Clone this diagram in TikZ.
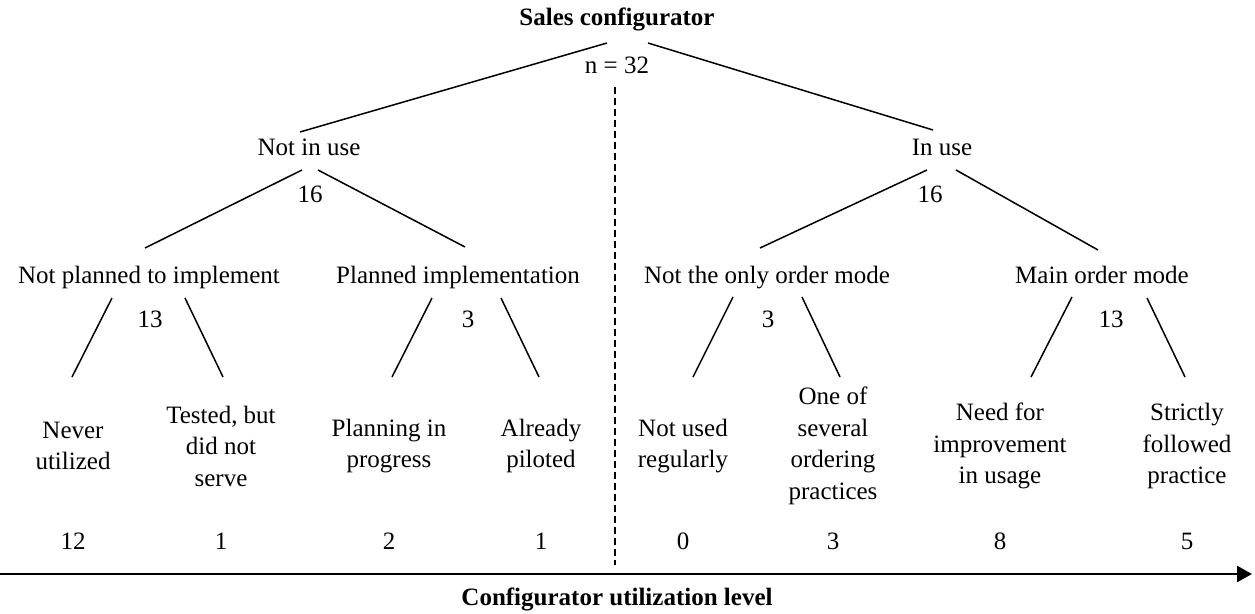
\documentclass[tikz,border=0pt]{standalone}
\usepackage{fontspec}
\setmainfont{Liberation Serif}
\usepackage{tikz}
\usetikzlibrary{arrows.meta,calc}

\begin{document}
\begin{tikzpicture}[
    x=1pt, y=-1pt,
    lbl/.style={inner sep=0pt, font=\fontsize{25}{31.5}\selectfont, text height=17pt, text depth=6pt},
    title/.style={lbl, font=\fontsize{25}{31.5}\selectfont\bfseries},
    leaf/.style={inner sep=0pt, align=center, font=\fontsize{25}{31.5}\selectfont},
    branch/.style={line width=1.5pt},
    divider/.style={line width=1.3pt, dash pattern=on 7pt off 4pt},
    axis/.style={line width=2.6pt, -{Triangle[length=15pt,width=16pt]}}
]
\useasboundingbox (0,0) rectangle (1255,613);

% Root
\node[title] (top) at (617,20) {Sales configurator};
\node[lbl] (n32) at (617,68) {n = 32};

% First split
\node[lbl] (notuse) at (309,150) {Not in use};
\node[lbl] (n16a) at (310,197) {16};
\node[lbl] (inuse) at (942,150) {In use};
\node[lbl] (n16b) at (930,197) {16};

% Second split
\node[lbl] (npi) at (149,278) {Not planned to implement};
\node[lbl] (n13a) at (150,322) {13};
\node[lbl] (pim) at (458,278) {Planned implementation};
\node[lbl] (n3a) at (468,322) {3};
\node[lbl] (notonly) at (767,278) {Not the only order mode};
\node[lbl] (n3b) at (768,322) {3};
\node[lbl] (mainm) at (1102,278) {Main order mode};
\node[lbl] (n13b) at (1111,322) {13};

% Leaves
\node[leaf] (never) at (73,446) {Never\\utilized};
\node[leaf] (tested) at (221,446) {Tested, but\\did not\\serve};
\node[leaf] (planning) at (389,446) {Planning in\\progress};
\node[leaf] (already) at (541,446) {Already\\piloted};
\node[leaf] (notused) at (683,446) {Not used\\regularly};
\node[leaf] (oneof) at (833,446) {One of\\several\\ordering\\practices};
\node[leaf] (need) at (1000,446) {Need for\\improvement\\in usage};
\node[leaf] (strictly) at (1187,446) {Strictly\\followed\\practice};

% Counts
\node[lbl] (c1) at (73,544) {12};
\node[lbl] (c2) at (221,544) {1};
\node[lbl] (c3) at (389,544) {2};
\node[lbl] (c4) at (541,544) {1};
\node[lbl] (c5) at (683,544) {0};
\node[lbl] (c6) at (833,544) {3};
\node[lbl] (c7) at (1000,544) {8};
\node[lbl] (c8) at (1187,544) {5};

% Branches
\draw[branch] ($(top)+(-10,23)$) -- ($(notuse)+(-9,-18)$);
\draw[branch] ($(top)+(31,23)$) -- ($(inuse)+(-9,-20)$);
\draw[branch] ($(notuse)+(-7,20)$) -- ($(npi)+(-4,-30)$);
\draw[branch] ($(notuse)+(9,20)$) -- ($(pim)+(7,-31)$);
\draw[branch] ($(inuse)+(-15,20)$) -- ($(notonly)+(-7,-30)$);
\draw[branch] ($(inuse)+(14,20)$) -- ($(mainm)+(-4,-28)$);
\draw[branch] ($(npi)+(-37,20)$) -- ($(never)+(-1,-69)$);
\draw[branch] ($(npi)+(36,20)$) -- ($(tested)+(2,-69)$);
\draw[branch] ($(pim)+(-26,20)$) -- ($(planning)+(3,-69)$);
\draw[branch] ($(pim)+(43,20)$) -- ($(already)+(-2,-69)$);
\draw[branch] ($(notonly)+(-34,19)$) -- ($(notused)+(10,-69)$);
\draw[branch] ($(notonly)+(35,19)$) -- ($(oneof)+(7,-69)$);
\draw[branch] ($(mainm)+(-30,19)$) -- ($(need)+(31,-69)$);
\draw[branch] ($(mainm)+(45,20)$) -- ($(strictly)+(-2,-69)$);

% Divider and axis
\coordinate (divtop) at (615,87);
\coordinate (divbot) at (615,565);
\draw[divider] (divtop) -- (divbot);

\coordinate (axstart) at (0,574);
\coordinate (axend) at (1252,574);
\draw[axis] (axstart) -- (axend);
\node[title] (axlabel) at (617,600) {Configurator utilization level};

\end{tikzpicture}
\end{document}
